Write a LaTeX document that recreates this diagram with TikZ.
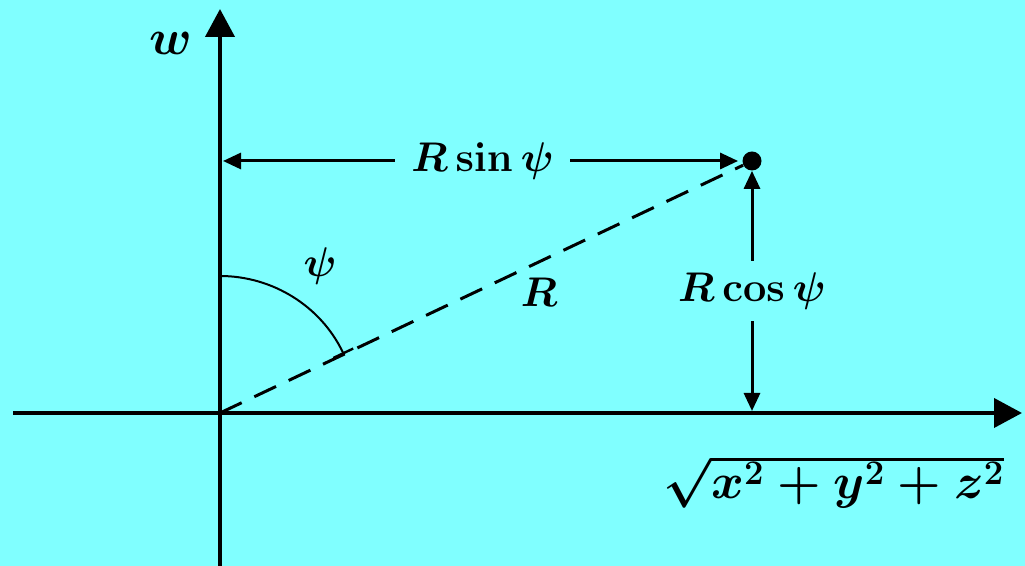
\documentclass[tikz,border=0pt]{standalone}
\usetikzlibrary{arrows.meta}
\definecolor{bg}{RGB}{128,255,255}
\begin{document}
\begin{tikzpicture}[x=0.5pt,y=0.5pt,
  lbl/.style={font=\fontsize{21}{25}\selectfont\boldmath, inner sep=0pt},
  dlbl/.style={font=\fontsize{22}{26}\selectfont\boldmath, inner sep=0pt, fill=bg},
  blbl/.style={font=\fontsize{23.8}{28}\selectfont\boldmath, inner sep=0pt},
  axis/.style={line width=2pt,-{Triangle[length=14pt,width=14.5pt]}},
  dim/.style={line width=1.5pt,{Triangle[length=9pt,width=8pt]}-{Triangle[length=9pt,width=8pt]}},
  dashline/.style={line width=1.5pt,dash pattern=on 12pt off 7pt},
  anglearc/.style={line width=1pt,-{Bar[width=11pt,line width=1.2pt]}}
]
\fill[bg] (0,0) rectangle (1025,566);
\useasboundingbox (0,0) rectangle (1025,566);
\coordinate (O) at (220,153);
\coordinate (xL) at (13,153);
\coordinate (xR) at (1022,153);
\coordinate (yB) at (220,0);
\coordinate (yT) at (220,557);
\draw[axis] (xL) -- (xR);
\draw[axis] (yB) -- (yT);
\node[circle,fill=black,inner sep=0pt,minimum size=9.5pt] (P) at (752,405) {};
\coordinate (H) at (223,405);
\coordinate (V) at (752,155);
\draw[dashline] (O) -- (P);
\draw[dim,shorten >=2pt] (H) -- node[dlbl,inner xsep=8pt,inner ysep=4pt] (rs) {$R\sin\psi$} (P);
\draw[dim] (V) -- node[dlbl,inner xsep=4pt,inner ysep=6pt] (rc) {$R\cos\psi$} (P);
\draw[anglearc] ([yshift=68.5pt]O) arc[start angle=90,end angle=25.35,radius=68.5pt];
\node[font=\fontsize{23}{27}\selectfont\boldmath, inner sep=0pt] (w) at (171,523) {$w$};
\node[lbl] (psi) at (320,300) {$\psi$};
\node[lbl] (Rl) at (539,274) {$R$};
\node[blbl] (sq) at (834,84) {$\sqrt{x^2+y^2+z^2}$};
\end{tikzpicture}
\end{document}
